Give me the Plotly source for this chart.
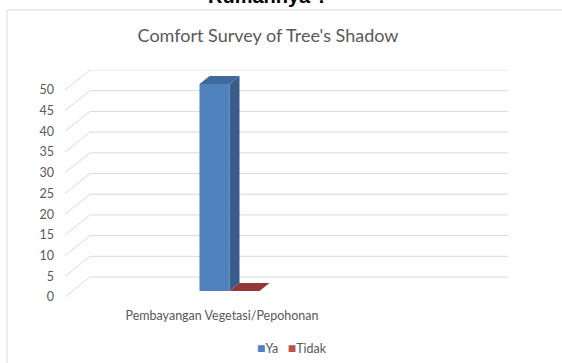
import plotly.graph_objects as go

# ---- data ----
categories = ["Pembayangan Vegetasi/Pepohonan"]
series_names = ["Ya", "Tidak"]
series_values = [[50], [0]]
y_ticks = [0, 5, 10, 15, 20, 25, 30, 35, 40, 45, 50]
title_text = "Comfort Survey of Tree's Shadow"
top_text = "Rumahnya ?"

# ---- styles ----
front_colors = ["#4F81BD", "#C0504D"]
side_colors = ["#385D8A", "#8C3836"]
top_colors = ["#3F6A9E", "#953735"]
grid_color = "#D9D9D9"
text_color = "#595959"
font_family = "Lato, 'Open Sans', sans-serif"

W, H = 562, 363
ml, mr, mt, mb = 65, 54, 70, 66
px_per_cat = 100.0            # pixels per category unit on x
plot_w = W - ml - mr
plot_h = H - mt - mb
px_per_val = 4.14             # pixels per value unit on y
depth_px = (25.0, 20.0)       # back wall offset in pixels (right, up)
ddx = depth_px[0] / px_per_cat
ddy = depth_px[1] / px_per_val
cat_center_px = 222 - ml      # category centre from left of plot
x_min = -cat_center_px / px_per_cat
x_max = x_min + plot_w / px_per_cat
y_max = plot_h / px_per_val

bar_w = 0.30
f0, f1 = 0.3, 0.7             # bar depth span (fraction of floor depth)

fig = go.Figure()

n = len(series_names)
for ci, cat in enumerate(categories):
    for si, name in enumerate(series_names):
        v = series_values[si][ci]
        xc = ci + (si - (n - 1) / 2) * bar_w
        x0, x1 = xc - bar_w / 2, xc + bar_w / 2
        # front face
        fig.add_trace(go.Bar(
            x=[xc + f0 * ddx], y=[v], base=[f0 * ddy], width=[bar_w],
            name=name,
            marker=dict(color=front_colors[si], line=dict(width=0)),
            showlegend=False, hoverinfo="skip"))
        # right side face
        fig.add_trace(go.Scatter(
            x=[x1 + f0 * ddx, x1 + f1 * ddx, x1 + f1 * ddx, x1 + f0 * ddx, x1 + f0 * ddx],
            y=[f0 * ddy, f1 * ddy, v + f1 * ddy, v + f0 * ddy, f0 * ddy],
            fill="toself", fillcolor=side_colors[si], mode="lines",
            line=dict(width=0, color=side_colors[si]),
            showlegend=False, hoverinfo="skip"))
        # top face
        fig.add_trace(go.Scatter(
            x=[x0 + f0 * ddx, x1 + f0 * ddx, x1 + f1 * ddx, x0 + f1 * ddx, x0 + f0 * ddx],
            y=[v + f0 * ddy, v + f0 * ddy, v + f1 * ddy, v + f1 * ddy, v + f0 * ddy],
            fill="toself", fillcolor=top_colors[si], mode="lines",
            line=dict(width=0, color=top_colors[si]),
            showlegend=False, hoverinfo="skip"))

shapes = []
# gridlines: back wall and left wall diagonals
for t in y_ticks:
    shapes.append(dict(type="line", xref="x", yref="y",
                       x0=x_min + ddx, x1=x_max, y0=t + ddy, y1=t + ddy,
                       line=dict(color=grid_color, width=1), layer="below"))
    shapes.append(dict(type="line", xref="x", yref="y",
                       x0=x_min, x1=x_min + ddx, y0=t, y1=t + ddy,
                       line=dict(color=grid_color, width=1), layer="below"))
# chart border (extends past the window)
shapes.append(dict(type="rect", xref="paper", yref="paper",
                   x0=(7 - ml) / plot_w, x1=1.4,
                   y0=-0.6, y1=(H - mb - 10) / plot_h,
                   line=dict(color=grid_color, width=1), layer="below"))

# compact legend (Excel style: small square right next to the text)
legend_html = "&nbsp;&nbsp;&nbsp;".join(
    f"<span style='color:{front_colors[i]};font-size:14px'>■</span>{series_names[i]}"
    for i in range(n))

annotations = [
    dict(text="<b>" + top_text + "</b>", xref="paper", yref="paper",
         x=(268 - ml) / plot_w, y=(H - mb - 9) / plot_h,
         xanchor="center", yanchor="bottom", showarrow=False,
         font=dict(size=20, color="black",
                   family="Liberation Sans, Arial, sans-serif")),
    dict(text=legend_html, xref="paper", yref="paper",
         x=(292 - ml) / plot_w, y=(H - mb - 347) / plot_h,
         xanchor="center", yanchor="middle", showarrow=False,
         font=dict(size=12.5, color=text_color, family=font_family)),
]

fig.update_layout(
    width=W, height=H,
    margin=dict(l=ml, r=mr, t=mt, b=mb, autoexpand=False),
    paper_bgcolor="white", plot_bgcolor="rgba(0,0,0,0)",
    barmode="overlay",
    font=dict(family=font_family, color=text_color, size=12),
    title=dict(text=title_text, x=268 / W, xref="container", xanchor="center",
               y=1 - 36 / H, yref="container", yanchor="middle",
               font=dict(size=18, color=text_color, family=font_family)),
    xaxis=dict(range=[x_min, x_max], tickvals=list(range(len(categories))),
               ticktext=categories, showgrid=False, zeroline=False,
               showline=False, ticks="", ticklabelstandoff=9,
               tickfont=dict(size=12.5, color=text_color)),
    yaxis=dict(range=[0, y_max], tickvals=y_ticks, showgrid=False,
               zeroline=False, showline=False, ticks="",
               ticklabelstandoff=10, tickfont=dict(size=12.5, color=text_color)),
    shapes=shapes,
    annotations=annotations,
    showlegend=False,
)

fig.write_html("out.html")
